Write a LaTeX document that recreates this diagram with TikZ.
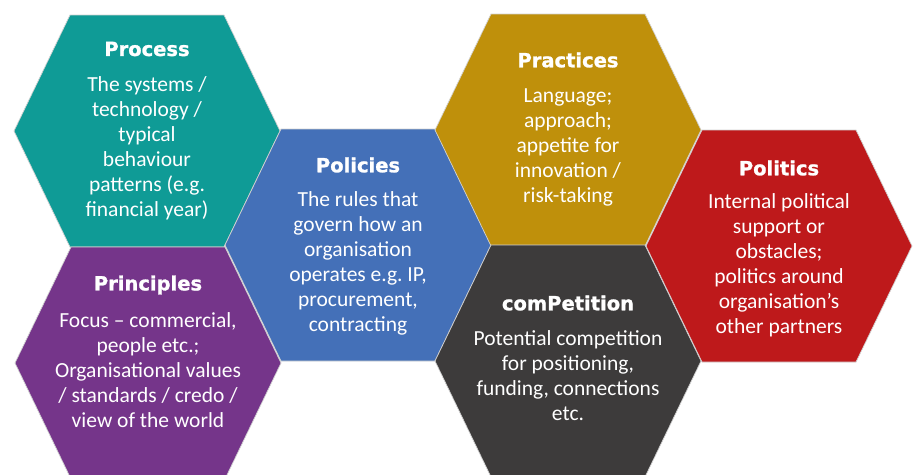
\documentclass[tikz,border=0pt]{standalone}
\usepackage{fontspec}
\setmainfont{Carlito}
\newfontfamily\headfont{DejaVu Sans}[BoldFeatures={FakeBold=1.2}]
\usetikzlibrary{positioning}
\definecolor{processteal}{HTML}{0F9B96}
\definecolor{principlespurple}{HTML}{75358A}
\definecolor{policiesblue}{HTML}{4470B8}
\definecolor{practicesgold}{HTML}{BF900B}
\definecolor{competitiongray}{HTML}{3D3B3B}
\definecolor{politicsred}{HTML}{BE191B}
\tikzstyle{hexcell} = [draw=white!82!black, line width=0.7pt, line join=miter]
\tikzstyle{hexhead} = [text=white, inner sep=0pt, align=center,
font=\headfont\bfseries\fontsize{19.5}{21}\selectfont]
\tikzstyle{hextext} = [text=white, inner sep=0pt, align=center,
font=\frenchspacing\fontsize{21.5}{25}\selectfont]

\begin{document}
\begin{tikzpicture}[x=1pt, y=-1pt]

		% Canvas (same size as the reference)
		\useasboundingbox (0,0) rectangle (917,474);

		% Hexagons
		\foreach \cx/\cy/\col in {147/131/processteal, 148/363/principlespurple,
				358/245/policiesblue, 568/130/practicesgold,
				568/361/competitiongray, 779/246/politicsred}
			\draw[hexcell, fill=\col, shift={(\cx,\cy)}]
				(-133,0) -- (-77,-116) -- (77,-116) -- (133,0) -- (77,116) -- (-77,116) -- cycle;

		% Process
		\node[hexhead] (processhead) at (147,49) {Process};
		\node[hextext] (processtext) at (147,148) {
			The systems / \\
			technology / \\
			typical \\
			behaviour \\
			patterns (e.g. \\
			financial year)
		};

		% Principles
		\node[hexhead] (principleshead) at (148,285) {Principles};
		\node[hextext] (principlestext) at (148,370) {
			Focus -- commercial, \\
			people etc.; \\
			Organisational values \\
			/ standards / credo / \\
			view of the world
		};

		% Policies
		\node[hexhead] (policieshead) at (358,165) {Policies};
		\node[hextext] (policiestext) at (358,263) {
			The rules that \\
			govern how an \\
			organisation \\
			operates e.g. IP, \\
			procurement, \\
			contracting
		};

		% Practices
		\node[hexhead] (practiceshead) at (568,60) {Practices};
		\node[hextext] (practicestext) at (568,147) {
			Language; \\
			approach; \\
			appetite for \\
			innovation / \\
			risk-taking
		};

		% comPetition
		\node[hexhead] (competitionhead) at (568,303) {comPetition};
		\node[hextext] (competitiontext) at (568,376) {
			Potential competition \\
			for positioning, \\
			funding, connections \\
			etc.
		};

		% Politics
		\node[hexhead] (politicshead) at (779,168) {Politics};
		\node[hextext] (politicstext) at (779,265) {
			Internal political \\
			support or \\
			obstacles; \\
			politics around \\
			organisation’s \\
			other partners
		};

	\end{tikzpicture}
\end{document}
